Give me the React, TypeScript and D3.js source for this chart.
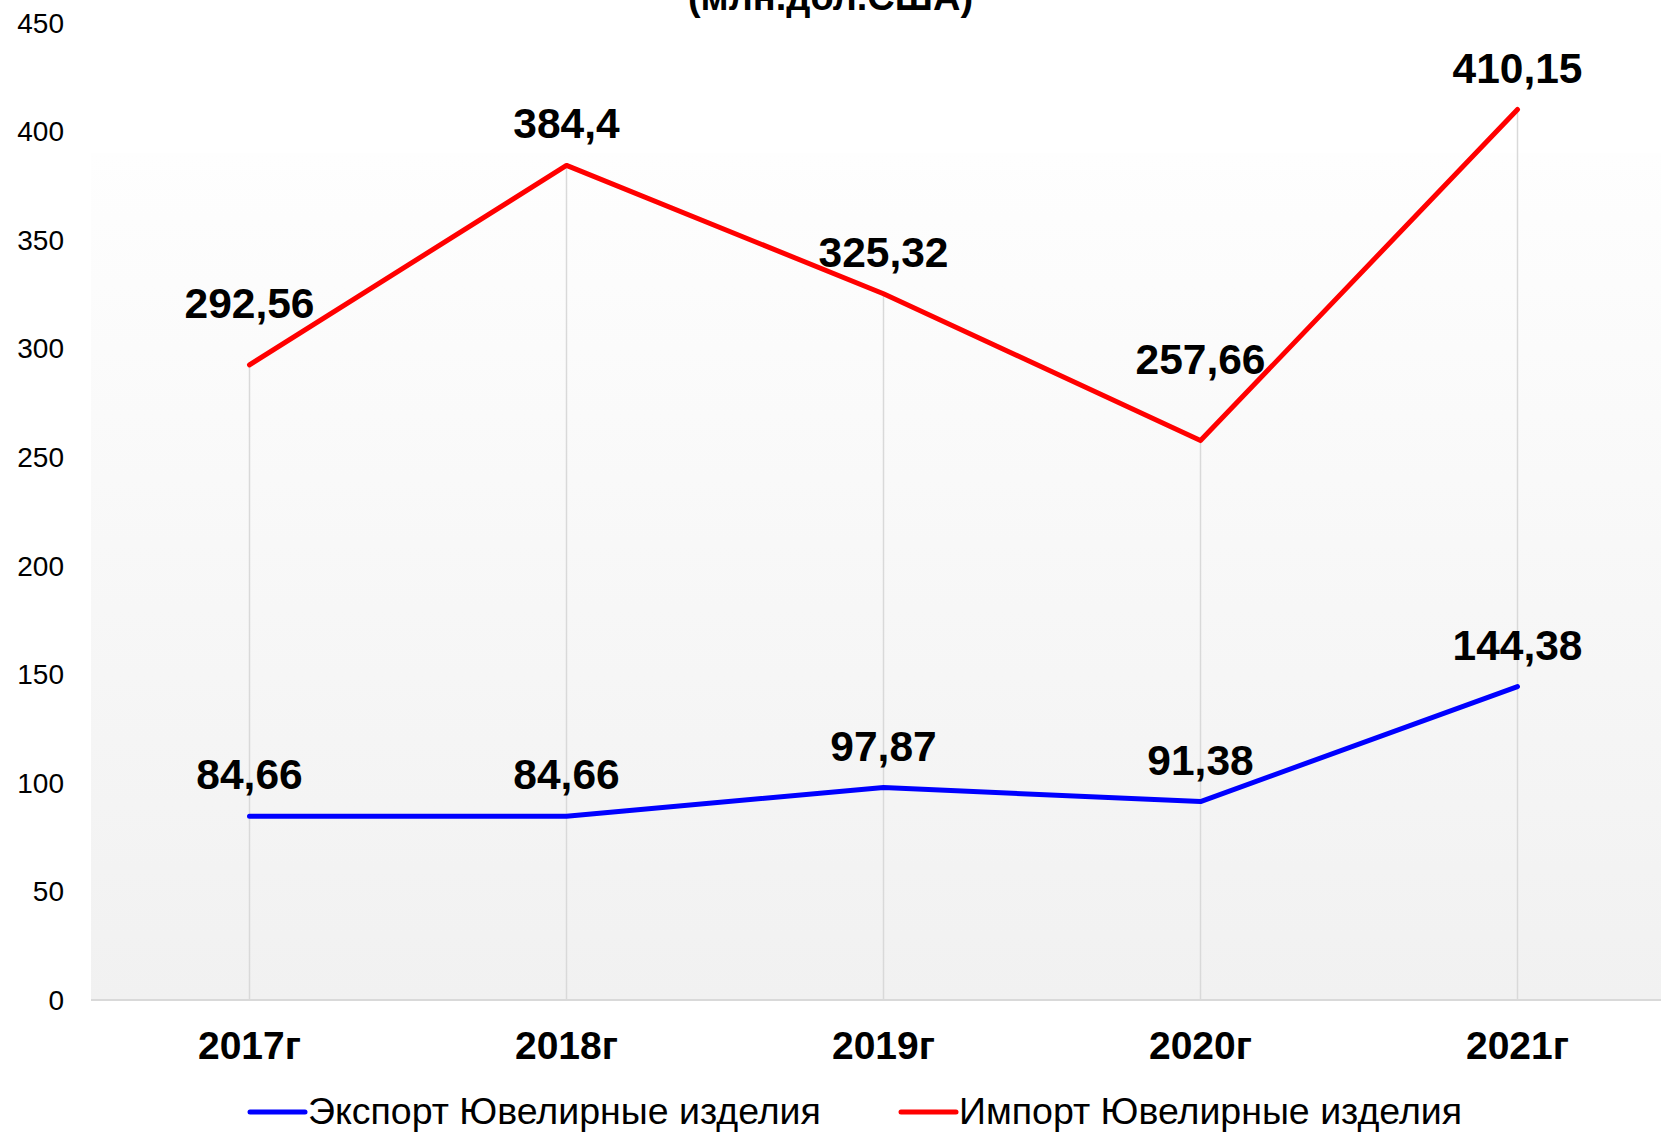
import React, { useEffect, useRef } from 'react';
import * as d3 from 'd3';

// data
const years = ['2017г', '2018г', '2019г', '2020г', '2021г'];
const exportValues = [84.66, 84.66, 97.87, 91.38, 144.38];
const importValues = [292.56, 384.4, 325.32, 257.66, 410.15];
const yTicks = [0, 50, 100, 150, 200, 250, 300, 350, 400, 450];
const exportName = 'Экспорт Ювелирные изделия';
const importName = 'Импорт Ювелирные изделия';
const subtitle = '(млн.дол.США)';

// manual label lifts (px) for import labels that were dragged up in the original
const importLabelLift = [20, 0, 0, 40, 0];

const FONT = "'Liberation Sans', Arial, Helvetica, sans-serif";

export default function App() {
  const ref = useRef<SVGSVGElement>(null);

  useEffect(() => {
    drawChart();
  }, []);

  const drawChart = () => {
    const W = 1661, H = 1133;
    const svg = d3.select(ref.current);
    svg.selectAll('*').remove();

    const left = 91, bottom = 1000;

    const x = d3.scalePoint<string>()
      .domain(years)
      .range([left, left + 5 * 317])
      .padding(0.5);

    const y = d3.scaleLinear()
      .domain([0, 450])
      .range([bottom, 23]);

    // plot area gradient
    const defs = svg.append('defs');
    const grad = defs.append('linearGradient')
      .attr('id', 'plotBg')
      .attr('x1', 0).attr('y1', 0).attr('x2', 0).attr('y2', 1);
    grad.append('stop').attr('offset', '0%').attr('stop-color', '#fefefe');
    grad.append('stop').attr('offset', '100%').attr('stop-color', '#f1f1f1');

    svg.append('rect')
      .attr('x', left)
      .attr('y', 153)
      .attr('width', W - left)
      .attr('height', bottom - 153)
      .attr('fill', 'url(#plotBg)');

    // title (only its second line is inside the picture)
    svg.append('text')
      .attr('x', W / 2)
      .attr('y', 10)
      .attr('text-anchor', 'middle')
      .attr('font-family', FONT)
      .attr('font-weight', 'bold')
      .attr('font-size', 38)
      .text(subtitle);

    // drop lines
    svg.append('g')
      .selectAll('line')
      .data(years)
      .join('line')
      .attr('x1', d => x(d)!)
      .attr('x2', d => x(d)!)
      .attr('y1', (d, i) => y(Math.max(importValues[i], exportValues[i])))
      .attr('y2', bottom)
      .attr('stroke', '#d9d9d9')
      .attr('stroke-width', 1.5);

    // x axis line
    svg.append('line')
      .attr('x1', left)
      .attr('x2', W)
      .attr('y1', bottom)
      .attr('y2', bottom)
      .attr('stroke', '#d9d9d9')
      .attr('stroke-width', 2);

    // y tick labels
    svg.append('g')
      .selectAll('text')
      .data(yTicks)
      .join('text')
      .attr('x', 64)
      .attr('y', d => y(d))
      .attr('dy', '0.35em')
      .attr('text-anchor', 'end')
      .attr('font-family', FONT)
      .attr('font-size', 28)
      .attr('fill', '#000')
      .text(d => d);

    // x labels
    svg.append('g')
      .selectAll('text')
      .data(years)
      .join('text')
      .attr('x', d => x(d)!)
      .attr('y', 1059)
      .attr('text-anchor', 'middle')
      .attr('font-family', FONT)
      .attr('font-weight', 'bold')
      .attr('font-size', 39)
      .text(d => d);

    const line = d3.line<number>()
      .x((d, i) => x(years[i])!)
      .y(d => y(d));

    const series = [
      { values: exportValues, color: '#0000ff', lift: [0, 0, 0, 0, 0] },
      { values: importValues, color: '#ff0000', lift: importLabelLift },
    ];

    series.forEach(s => {
      svg.append('path')
        .datum(s.values)
        .attr('fill', 'none')
        .attr('stroke', s.color)
        .attr('stroke-width', 5)
        .attr('stroke-linejoin', 'round')
        .attr('stroke-linecap', 'round')
        .attr('d', line);

      svg.append('g')
        .selectAll('text')
        .data(s.values)
        .join('text')
        .attr('x', (d, i) => x(years[i])!)
        .attr('y', (d, i) => y(d) - 27 - s.lift[i])
        .attr('text-anchor', 'middle')
        .attr('font-family', FONT)
        .attr('font-weight', 'bold')
        .attr('font-size', 42.5)
        .text(d => String(d).replace('.', ','));
    });

    // legend
    const legendItems = [
      { name: exportName, color: '#0000ff', x: 250 },
      { name: importName, color: '#ff0000', x: 901 },
    ];
    const lg = svg.append('g');
    legendItems.forEach(it => {
      lg.append('line')
        .attr('x1', it.x)
        .attr('x2', it.x + 55)
        .attr('y1', 1112)
        .attr('y2', 1112)
        .attr('stroke', it.color)
        .attr('stroke-width', 5)
        .attr('stroke-linecap', 'round');
      lg.append('text')
        .attr('x', it.x + 58)
        .attr('y', 1124)
        .attr('font-family', FONT)
        .attr('font-size', 37.5)
        .text(it.name);
    });
  };

  return (
    <svg
      ref={ref}
      width={1661}
      height={1133}
      style={{ position: 'absolute', left: 0, top: 0, background: '#fff' }}
    />
  );
}
